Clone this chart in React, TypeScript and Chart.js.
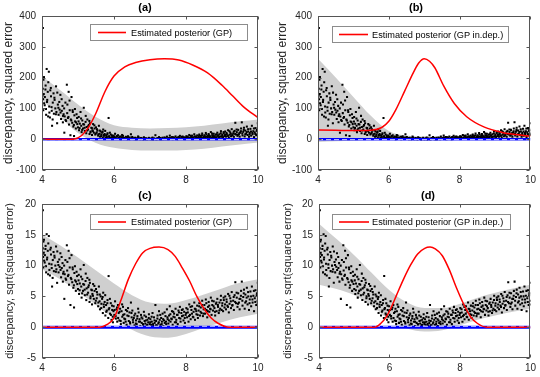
import React, { useEffect, useRef } from 'react';
import { Chart, registerables } from 'chart.js';

Chart.register(...registerables);

// ---------- data ----------
// sample x positions and sqrt(squared error) discrepancies (read from panels c/d)
const SAMPLE_X = [
  4.025, 4.02, 4.03, 4.04, 4.05, 4.06, 4.08, 4.10, 4.11, 4.13, 4.14, 4.16, 4.17, 4.19, 4.20, 4.22, 4.23, 4.25, 4.27, 4.28, 4.30, 4.32, 4.33, 4.35, 4.37, 4.39, 4.40, 4.42, 4.44, 4.46, 4.48, 4.49,
  4.51, 4.53, 4.55, 4.57, 4.58, 4.60, 4.62, 4.63, 4.65, 4.67, 4.69, 4.70, 4.72, 4.74, 4.75, 4.77, 4.79, 4.80, 4.82, 4.84, 4.85, 4.87, 4.89, 4.90, 4.92, 4.94, 4.96, 4.98,
  5.00, 5.02, 5.03, 5.05, 5.07, 5.09, 5.10, 5.12, 5.14, 5.16, 5.17, 5.19, 5.21, 5.23, 5.24, 5.26, 5.28, 5.30, 5.32, 5.33, 5.35, 5.37, 5.39, 5.40, 5.42, 5.44, 5.46, 5.48,
  5.50, 5.52, 5.54, 5.56, 5.58, 5.60, 5.61, 5.63, 5.65, 5.67, 5.69, 5.70, 5.72, 5.74, 5.76, 5.78, 5.80, 5.82, 5.84, 5.85, 5.87, 5.89, 5.91, 5.93, 5.95, 5.97, 5.99,
  6.01, 6.03, 6.05, 6.07, 6.09, 6.11, 6.13, 6.15, 6.17, 6.19, 6.21, 6.23, 6.25, 6.27, 6.29, 6.31, 6.33, 6.35, 6.37, 6.39, 6.41, 6.43, 6.45, 6.47, 6.49,
  6.51, 6.53, 6.55, 6.57, 6.59, 6.61, 6.63, 6.65, 6.67, 6.69, 6.71, 6.73, 6.75, 6.77, 6.79, 6.81, 6.83, 6.85, 6.87, 6.89, 6.91, 6.93, 6.95, 6.97, 6.99,
  7.01, 7.03, 7.05, 7.07, 7.09, 7.11, 7.13, 7.15, 7.17, 7.19, 7.21, 7.23, 7.25, 7.27, 7.29, 7.31, 7.33, 7.35, 7.37, 7.39, 7.41, 7.43, 7.45, 7.47, 7.49,
  7.51, 7.53, 7.55, 7.57, 7.59, 7.61, 7.63, 7.65, 7.67, 7.69, 7.71, 7.73, 7.75, 7.77, 7.79, 7.81, 7.83, 7.85, 7.87, 7.89, 7.91, 7.93, 7.95, 7.97, 7.99,
  8.01, 8.03, 8.05, 8.07, 8.09, 8.11, 8.13, 8.15, 8.17, 8.19, 8.21, 8.23, 8.25, 8.27, 8.29, 8.31, 8.33, 8.35, 8.37, 8.39, 8.41, 8.43, 8.45, 8.47, 8.49,
  8.51, 8.53, 8.55, 8.57, 8.59, 8.61, 8.63, 8.65, 8.67, 8.69, 8.71, 8.73, 8.75, 8.77, 8.79, 8.81, 8.83, 8.85, 8.87, 8.89, 8.91, 8.93, 8.95, 8.97, 8.99,
  9.01, 9.03, 9.05, 9.07, 9.09, 9.11, 9.13, 9.15, 9.17, 9.19, 9.21, 9.23, 9.25, 9.27, 9.29, 9.31, 9.33, 9.35, 9.37, 9.39, 9.41, 9.43, 9.45, 9.47, 9.49,
  9.51, 9.53, 9.55, 9.57, 9.59, 9.61, 9.63, 9.65, 9.67, 9.69, 9.71, 9.73, 9.75, 9.77, 9.79, 9.81, 9.83, 9.85, 9.87, 9.89, 9.91, 9.93, 9.95, 9.97, 9.99, 9.995,
  // second pass
  4.015, 4.035, 4.055, 4.075, 4.095, 4.115, 4.145, 4.175, 4.205, 4.245, 4.265, 4.295, 4.345, 4.385, 4.425, 4.455, 4.515, 4.545, 4.585, 4.615, 4.655, 4.705, 4.735, 4.765, 4.815, 4.855, 4.885, 4.915, 4.945, 4.975,
  5.015, 5.045, 5.085, 5.115, 5.145, 5.185, 5.215, 5.255, 5.285, 5.315, 5.345, 5.385, 5.415, 5.455, 5.495, 5.525, 5.565, 5.605, 5.645, 5.685, 5.715, 5.755, 5.785, 5.815, 5.855, 5.885, 5.915, 5.945, 5.965, 5.985,
  6.015, 6.045, 6.085, 6.115, 6.155, 6.185, 6.225, 6.255, 6.285, 6.325, 6.365, 6.405, 6.445, 6.485, 6.525, 6.565, 6.605, 6.645, 6.685, 6.725, 6.765, 6.805, 6.845, 6.885, 6.925, 6.965, 7.005, 7.045, 7.085, 7.125, 7.165, 7.205, 7.245, 7.285, 7.325, 7.365, 7.405, 7.445, 7.485, 7.525,
  7.565, 7.605, 7.645, 7.685, 7.725, 7.765, 7.805, 7.845, 7.885, 7.925, 7.965, 8.005, 8.045, 8.085, 8.125, 8.165, 8.205, 8.245, 8.285, 8.325, 8.365, 8.405, 8.445, 8.485, 8.525, 8.565, 8.605, 8.645, 8.685, 8.725, 8.765, 8.805, 8.845, 8.885, 8.925, 8.965,
  9.005, 9.045, 9.085, 9.125, 9.165, 9.205, 9.245, 9.285, 9.325, 9.365, 9.405, 9.445, 9.485, 9.525, 9.565, 9.605, 9.645, 9.685, 9.725, 9.765, 9.805, 9.845, 9.885, 9.925, 9.965, 9.985,
];
const SAMPLE_SQRT = [
  19.0, 12.8, 11.4, 13.9, 12.1, 10.8, 11.7, 13.2, 9.9, 15.1, 11.0, 12.4, 8.6, 14.8, 10.3, 8.4, 12.6, 11.8, 9.6, 6.6, 10.9, 12.2, 9.1, 11.3, 10.0, 13.1, 9.4, 7.2, 10.6, 8.9, 11.0, 9.8,
  12.0, 8.1, 9.6, 10.4, 7.4, 9.0, 4.6, 8.6, 10.9, 7.7, 13.3, 9.2, 8.3, 12.4, 6.9, 9.7, 3.6, 8.0, 11.7, 7.3, 9.7, 6.4, 3.2, 8.8, 7.6, 5.9, 9.0, 7.0,
  6.2, 8.5, 5.4, 7.1, 9.4, 6.6, 4.8, 7.8, 5.9, 10.1, 6.9, 5.2, 7.5, 4.4, 6.3, 8.0, 5.6, 6.8, 4.1, 7.2, 5.0, 6.1, 3.7, 5.4, 7.0, 4.6, 5.9, 3.9,
  6.2, 4.7, 5.3, 3.4, 6.6, 4.2, 2.9, 5.0, 3.8, 4.6, 2.3, 5.6, 3.3, 4.1, 1.9, 3.6, 2.7, 4.4, 1.5, 8.3, 3.1, 2.2, 3.9, 1.2, 2.8, 0.8, 3.4,
  2.0, 4.2, 1.4, 2.9, 0.9, 3.6, 2.3, 1.1, 3.0, 0.5, 2.6, 1.7, 3.3, 0.7, 2.1, 1.3, 2.8, 0.4, 1.9, 3.1, 1.0, 2.4, 0.6, 4.0, 1.6,
  2.7, 0.8, 1.5, 0.3, 2.2, 1.1, 0.5, 1.8, 3.0, 0.9, 1.3, 0.2, 2.0, 0.7, 1.4, 0.4, 2.5, 1.0, 0.6, 1.7, 0.3, 1.2, 0.8, 2.1, 0.5,
  1.3, 0.4, 0.9, 2.3, 0.2, 1.6, 0.7, 3.6, 1.0, 0.3, 1.9, 0.6, 2.6, 1.2, 0.4, 1.5, 0.9, 2.2, 0.2, 1.1, 0.7, 1.8, 0.5, 2.9, 1.3,
  0.6, 1.9, 3.4, 0.9, 1.4, 2.6, 0.4, 1.7, 2.2, 0.8, 3.0, 1.2, 2.0, 0.5, 2.7, 1.5, 3.3, 0.9, 2.3, 1.8, 2.9, 1.1, 2.5, 0.7, 2.0,
  3.1, 1.6, 2.4, 0.9, 3.7, 2.0, 1.3, 2.8, 3.4, 1.7, 2.5, 4.0, 1.2, 2.9, 2.1, 3.5, 1.5, 2.7, 3.9, 1.9, 3.2, 2.3, 4.3, 1.8, 2.9,
  3.6, 2.2, 4.5, 2.8, 1.6, 3.3, 4.1, 2.5, 3.0, 4.8, 2.0, 3.6, 2.7, 4.2, 3.1, 1.9, 3.8, 2.6, 4.6, 3.3, 2.3, 4.0, 3.0, 5.1, 2.8,
  3.9, 2.6, 4.4, 3.2, 5.0, 2.9, 4.1, 3.5, 5.4, 2.4, 3.8, 4.7, 3.1, 5.7, 3.6, 4.3, 2.8, 5.2, 7.3, 3.9, 4.8, 3.3, 5.5, 4.0, 2.9,
  4.6, 5.9, 7.4, 3.5, 4.9, 6.1, 3.0, 5.3, 4.2, 6.4, 3.7, 5.0, 2.8, 4.5, 5.8, 3.4, 6.6, 4.0, 5.1, 2.6, 4.7, 6.0, 3.6, 5.5, 4.3, 7.2,
  // second pass
  11.9, 9.7, 14.2, 10.5, 12.7, 8.9, 11.3, 13.6, 9.3, 12.9, 10.2, 8.0, 11.6, 9.0, 12.3, 10.1, 9.3, 11.4, 8.7, 10.0, 7.9, 10.6, 8.5, 11.2, 7.8, 9.4, 6.8, 9.9, 7.4, 8.3,
  7.6, 6.0, 8.2, 5.5, 7.0, 6.1, 8.7, 5.3, 6.5, 7.7, 4.7, 6.0, 5.1, 6.7, 4.3, 5.7, 4.0, 5.3, 3.1, 4.9, 3.7, 5.2, 2.5, 3.9, 2.9, 4.6, 2.0, 3.5, 1.7, 2.6,
  2.8, 1.8, 3.2, 1.5, 2.5, 1.0, 3.7, 2.0, 1.4, 0.9, 2.6, 1.8, 0.8, 2.3, 1.2, 1.9, 0.6, 1.4, 2.4, 0.9, 1.6, 0.5, 1.9, 1.1, 0.4, 1.5, 0.8, 1.7, 0.5, 1.1, 0.3, 1.4, 0.8, 2.0, 0.5, 1.3, 2.4, 0.9, 1.6, 1.1,
  2.1, 1.3, 2.5, 1.6, 0.8, 2.0, 2.4, 1.4, 2.8, 1.9, 1.5, 2.3, 2.9, 1.8, 3.3, 2.2, 1.6, 3.0, 2.6, 2.0, 3.4, 2.5, 3.6, 2.2, 3.0, 3.9, 2.6, 3.5, 2.9, 4.3, 3.4, 2.5, 4.0, 3.6, 2.7, 4.4,
  3.5, 4.8, 3.7, 4.5, 3.3, 5.1, 4.2, 3.5, 4.9, 4.1, 5.6, 3.8, 4.6, 5.1, 4.3, 5.5, 4.0, 4.8, 5.7, 3.9, 5.0, 4.5, 5.9, 4.1, 5.2, 3.7,
];

// GP band x grid
const BAND_X = [4, 4.5, 5, 5.5, 6, 6.5, 7, 7.5, 8, 8.5, 9, 9.5, 10];
const BAND_A_UPPER = [204, 160, 113, 72, 45, 37, 35, 36, 39, 44, 51, 58, 64];
const BAND_A_LOWER = [127, 72, 20, -12, -28, -35, -37, -37, -35, -31, -24, -17, -11];
const BAND_B_UPPER = [261, 200, 137, 75, 27, 12, 9, 9, 11, 15, 21, 29, 38];
const BAND_B_LOWER = [-9, -7, -5, -3, -1, 0, 0, 0, 0, 0, -1, -1, -2];
const BAND_C_UPPER = [15.1, 13.3, 11.3, 9.2, 7.1, 5.2, 4.0, 3.8, 4.4, 5.3, 6.3, 7.2, 7.8];
const BAND_C_LOWER = [9.4, 7.8, 5.8, 3.6, 1.4, -0.4, -1.5, -1.7, -1.1, -0.1, 0.8, 1.6, 2.2];
const BAND_D_UPPER = [16.8, 14.3, 11.7, 8.8, 6.0, 4.0, 3.1, 3.1, 3.8, 4.8, 5.6, 6.3, 6.9];
const BAND_D_LOWER = [6.9, 6.2, 5.2, 3.4, 1.2, -0.2, -0.7, -0.5, 0.3, 1.2, 1.9, 2.5, 3.0];

// estimated posterior curves
const POST_A_X = [4, 4.6, 4.9, 5.1, 5.3, 5.5, 5.75, 6.0, 6.3, 6.6, 7.0, 7.4, 7.8, 8.2, 8.6, 9.0, 9.3, 9.6, 10];
const POST_A_Y = [0, 0, 1, 12, 40, 85, 155, 205, 235, 249, 258, 261, 257, 240, 215, 175, 140, 105, 70];
const POST_B_X = [4, 4.5, 5, 5.5, 5.8, 6.0, 6.2, 6.45, 6.7, 6.85, 7.0, 7.15, 7.3, 7.55, 7.85, 8.2, 8.7, 9.2, 9.6, 10];
const POST_B_Y = [30, 29, 28, 29, 38, 58, 96, 157, 218, 248, 261, 253, 232, 173, 116, 73, 39, 22, 15, 10];
const POST_C_X = [4, 5.0, 5.6, 5.8, 6.0, 6.2, 6.4, 6.6, 6.8, 7.0, 7.25, 7.5, 7.7, 7.9, 8.1, 8.3, 8.5, 8.7, 8.9, 9.2, 10];
const POST_C_Y = [0, 0, 0, 0.4, 1.5, 4.5, 7.8, 10.3, 12.1, 12.8, 13, 12.6, 11.5, 9.6, 7.5, 5, 3, 1.5, 0.6, 0, 0];
const POST_D_X = [4, 5.0, 5.58, 5.75, 5.9, 6.05, 6.2, 6.4, 6.6, 6.8, 7.0, 7.15, 7.3, 7.5, 7.7, 7.9, 8.1, 8.3, 8.5, 8.76, 10];
const POST_D_Y = [0, 0, 0, 0.6, 1.6, 3.2, 5.2, 7.8, 10.1, 11.9, 12.8, 13, 12.7, 11.6, 9.3, 6.4, 3.8, 1.7, 0.6, 0, 0];

// true-value reference lines
const REF_X = [4, 10];
const REF_Y = [0, 0];
const REF_DASH_TOP = [-1.5, -1.5];
const REF_DASH_BOTTOM = [0.15, 0.15];

const X_TICKS = [4, 6, 8, 10];
const Y_TICKS_TOP = [-100, 0, 100, 200, 300, 400];
const Y_TICKS_BOTTOM = [-5, 0, 5, 10, 15, 20];

// ---------- styling ----------
const FONT = "'Liberation Sans', Arial, Helvetica, sans-serif";
const TEXT_COLOR = '#262626';
const AXIS_COLOR = '#555555';
const BAND_COLOR = '#cfcfcf';
const W = 270;
const H = 189;

const zip = (xs: number[], ys: number[]) => xs.map((x, i) => ({ x, y: ys[i] }));

const matlabPlugin = {
  id: 'matlab',
  afterDatasetsDraw(chart: any, _args: any, opts: any) {
    const { ctx, chartArea: a, scales } = chart;
    ctx.save();
    ctx.strokeStyle = AXIS_COLOR;
    ctx.lineWidth = 1;
    const l = Math.round(a.left) + 0.5;
    const r = Math.round(a.right) - 0.5;
    const t = Math.round(a.top) + 0.5;
    const b = Math.round(a.bottom) - 0.5;
    ctx.strokeRect(l, t, r - l, b - t);
    const tl = 3;
    ctx.beginPath();
    for (const v of opts.xTicks) {
      const px = Math.round(scales.x.getPixelForValue(v)) + 0.5;
      ctx.moveTo(px, b); ctx.lineTo(px, b - tl);
      ctx.moveTo(px, t); ctx.lineTo(px, t + tl);
    }
    for (const v of opts.yTicks) {
      const py = Math.round(scales.y.getPixelForValue(v)) + 0.5;
      ctx.moveTo(l, py); ctx.lineTo(l + tl, py);
      ctx.moveTo(r, py); ctx.lineTo(r - tl, py);
    }
    ctx.stroke();

    // legend
    const lg = opts.legend;
    ctx.fillStyle = '#ffffff';
    ctx.fillRect(lg.x0, lg.y0, lg.x1 - lg.x0, lg.y1 - lg.y0);
    ctx.strokeStyle = '#8c8c8c';
    ctx.lineWidth = 1;
    ctx.strokeRect(lg.x0 + 0.5, lg.y0 + 0.5, lg.x1 - lg.x0 - 1, lg.y1 - lg.y0 - 1);
    const my = (lg.y0 + lg.y1) / 2;
    ctx.strokeStyle = '#ff0000';
    ctx.lineWidth = 1.6;
    ctx.beginPath();
    ctx.moveTo(lg.line0, my);
    ctx.lineTo(lg.line1, my);
    ctx.stroke();
    ctx.fillStyle = '#000000';
    ctx.font = `9.2px ${FONT}`;
    ctx.textAlign = 'left';
    ctx.textBaseline = 'middle';
    ctx.fillText(lg.text, lg.textX, my + 0.5);

    // title
    ctx.font = `bold 11px ${FONT}`;
    ctx.textAlign = 'center';
    ctx.textBaseline = 'middle';
    ctx.fillStyle = '#000000';
    ctx.fillText(opts.title, opts.titleX, 8);
    ctx.restore();
  },
};

type PanelCfg = {
  left: number; top: number; axisLeft: number; padRight: number;
  title: string; titleX: number;
  yTitle: string; yTitleSize: number; yTitlePad: number;
  yMin: number; yMax: number; yStep: number; yTicks: number[];
  samples: number[];
  bandUpper: number[]; bandLower: number[];
  postX: number[]; postY: number[];
  dashY: number[]; refWidth: number;
  legend: any;
};

function Panel({ cfg }: { cfg: PanelCfg }) {
  const ref = useRef<HTMLCanvasElement>(null);
  useEffect(() => {
    const chart = new Chart(ref.current as HTMLCanvasElement, {
      type: 'line',
      data: {
        datasets: [
          {
            label: 'lower', data: zip(BAND_X, cfg.bandLower), borderWidth: 0, pointRadius: 0,
            fill: false, cubicInterpolationMode: 'monotone', order: 6,
          },
          {
            label: 'upper', data: zip(BAND_X, cfg.bandUpper), borderWidth: 0, pointRadius: 0,
            fill: '-1', backgroundColor: BAND_COLOR, cubicInterpolationMode: 'monotone', order: 5,
          },
          {
            label: 'samples', data: zip(SAMPLE_X, cfg.samples), showLine: false,
            pointStyle: 'rect', pointRadius: 1.45, backgroundColor: '#000000', borderWidth: 0, order: 4,
          },
          {
            label: 'true', data: zip(REF_X, REF_Y), borderColor: '#0000ff', borderWidth: cfg.refWidth,
            pointRadius: 0, order: 3,
          },
          {
            label: 'trueDash', data: zip(REF_X, cfg.dashY), borderColor: 'rgba(235,240,255,0.9)', borderWidth: 1,
            borderDash: [5, 3], pointRadius: 0, order: 2,
          },
          {
            label: 'posterior', data: zip(cfg.postX, cfg.postY), borderColor: '#ff0000', borderWidth: 1.5,
            pointRadius: 0, cubicInterpolationMode: 'monotone', order: 1,
          },
        ] as any,
      },
      options: {
        responsive: false,
        animation: false,
        events: [],
        layout: { padding: { top: 16, right: cfg.padRight, left: 0, bottom: 0 } },
        plugins: {
          legend: { display: false },
          tooltip: { enabled: false },
          filler: { drawTime: 'beforeDatasetsDraw' },
          matlab: {
            xTicks: X_TICKS, yTicks: cfg.yTicks, legend: cfg.legend, title: cfg.title, titleX: cfg.titleX,
          },
        } as any,
        scales: {
          x: {
            type: 'linear', min: 4, max: 10,
            ticks: { stepSize: 2, font: { family: FONT, size: 10 }, color: TEXT_COLOR, padding: 4, maxRotation: 0 },
            grid: { display: false, drawTicks: false },
            border: { display: false },
            afterFit: (s: any) => { s.height = H - 170; },
          },
          y: {
            type: 'linear', min: cfg.yMin, max: cfg.yMax,
            ticks: { stepSize: cfg.yStep, font: { family: FONT, size: 10 }, color: TEXT_COLOR, padding: 6 },
            grid: { display: false, drawTicks: false },
            border: { display: false },
            title: {
              display: true, text: cfg.yTitle, color: TEXT_COLOR,
              font: { family: FONT, size: cfg.yTitleSize }, padding: { top: cfg.yTitlePad, bottom: 0 },
            },
            afterFit: (s: any) => { s.width = cfg.axisLeft; },
          },
        } as any,
      },
      plugins: [matlabPlugin as any],
    });
    return () => chart.destroy();
  }, [cfg]);
  return (
    <div style={{ position: 'absolute', left: cfg.left, top: cfg.top, width: W, height: H }}>
      <canvas ref={ref} width={W} height={H} style={{ display: 'block', width: W, height: H }} />
    </div>
  );
}

const SQUARED = SAMPLE_SQRT.map((v) => v * v);

const PANELS: PanelCfg[] = [
  {
    left: 0, top: 0, axisLeft: 42, padRight: 12, title: '(a)', titleX: 145,
    yTitle: 'discrepancy, squared error', yTitleSize: 12, yTitlePad: 1,
    yMin: -100, yMax: 400, yStep: 100, yTicks: Y_TICKS_TOP, samples: SQUARED,
    bandUpper: BAND_A_UPPER, bandLower: BAND_A_LOWER, postX: POST_A_X, postY: POST_A_Y, dashY: REF_DASH_TOP, refWidth: 2.4,
    legend: { x0: 90, y0: 24, x1: 248, y1: 41, line0: 98, line1: 126, textX: 131, text: 'Estimated posterior (GP)' },
  },
  {
    left: 270, top: 0, axisLeft: 48, padRight: 6, title: '(b)', titleX: 146,
    yTitle: 'discrepancy, squared error', yTitleSize: 12, yTitlePad: 5,
    yMin: -100, yMax: 400, yStep: 100, yTicks: Y_TICKS_TOP, samples: SQUARED,
    bandUpper: BAND_B_UPPER, bandLower: BAND_B_LOWER, postX: POST_B_X, postY: POST_B_Y, dashY: REF_DASH_TOP, refWidth: 2.4,
    legend: { x0: 62, y0: 26, x1: 239, y1: 43, line0: 69, line1: 98, textX: 102, text: 'Estimated posterior (GP in.dep.)' },
  },
  {
    left: 0, top: 188, axisLeft: 42, padRight: 12, title: '(c)', titleX: 145,
    yTitle: 'discrepancy, sqrt(squared error)', yTitleSize: 11, yTitlePad: 3,
    yMin: -5, yMax: 20, yStep: 5, yTicks: Y_TICKS_BOTTOM, samples: SAMPLE_SQRT,
    bandUpper: BAND_C_UPPER, bandLower: BAND_C_LOWER, postX: POST_C_X, postY: POST_C_Y, dashY: REF_DASH_BOTTOM, refWidth: 3,
    legend: { x0: 90, y0: 26, x1: 248, y1: 42, line0: 98, line1: 126, textX: 131, text: 'Estimated posterior (GP)' },
  },
  {
    left: 270, top: 188, axisLeft: 49, padRight: 6, title: '(d)', titleX: 158,
    yTitle: 'discrepancy, sqrt(squared error)', yTitleSize: 11, yTitlePad: 11,
    yMin: -5, yMax: 20, yStep: 5, yTicks: Y_TICKS_BOTTOM, samples: SAMPLE_SQRT,
    bandUpper: BAND_D_UPPER, bandLower: BAND_D_LOWER, postX: POST_D_X, postY: POST_D_Y, dashY: REF_DASH_BOTTOM, refWidth: 3,
    legend: { x0: 62, y0: 26, x1: 241, y1: 42, line0: 69, line1: 99, textX: 102, text: 'Estimated posterior (GP in.dep.)' },
  },
];

export default function App() {
  return (
    <div style={{ position: 'fixed', left: 0, top: 0, width: 540, height: 377, background: '#ffffff', overflow: 'hidden' }}>
      {PANELS.map((p, i) => (
        <Panel key={i} cfg={p} />
      ))}
    </div>
  );
}
